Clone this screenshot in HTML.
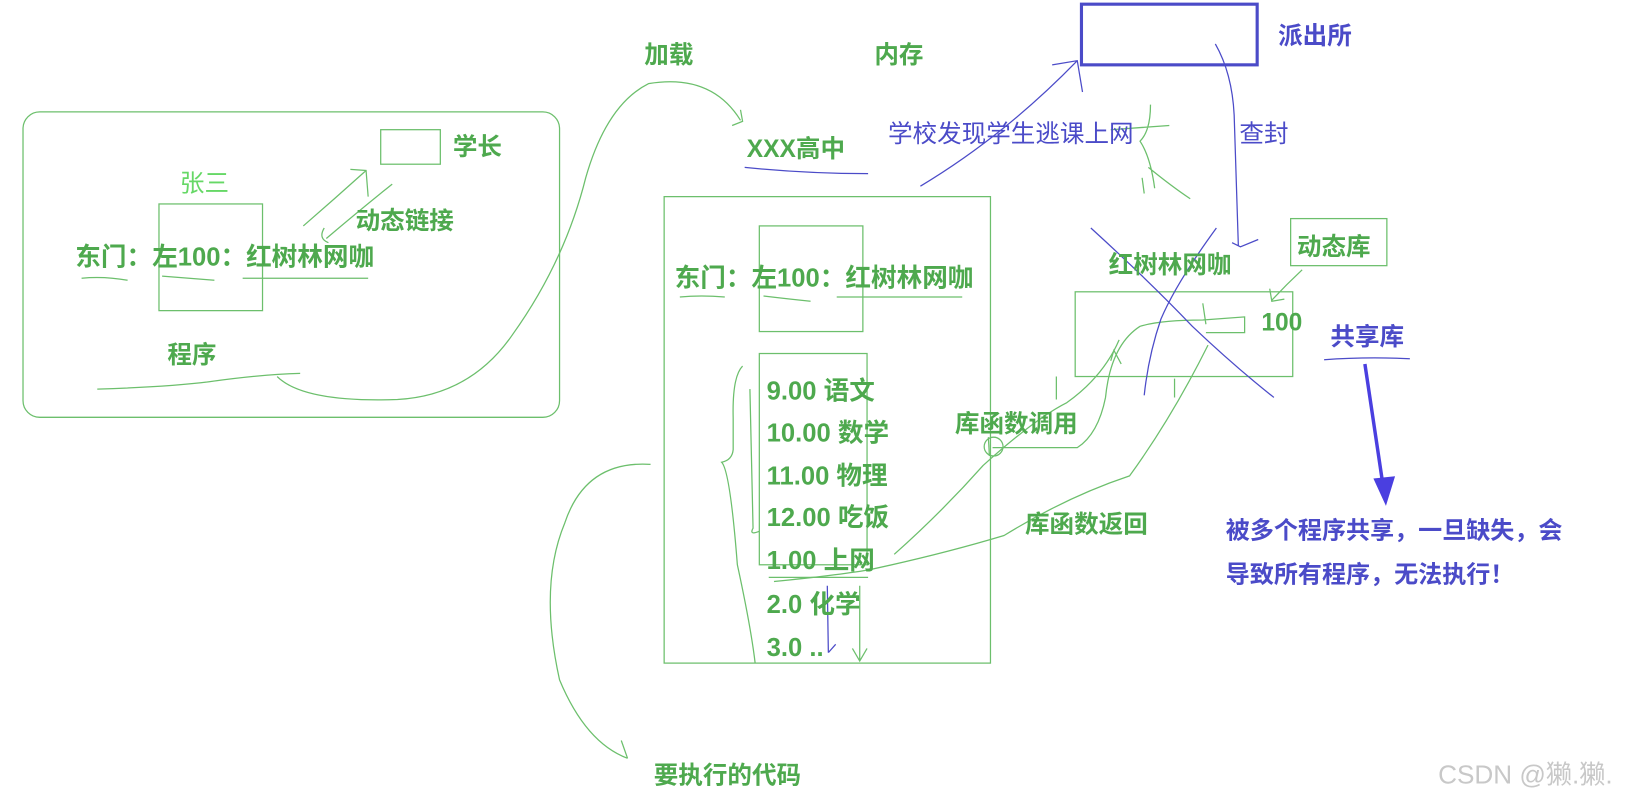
<!DOCTYPE html>
<html><head><meta charset="utf-8"><style>
html,body{margin:0;padding:0;background:#fff;width:1640px;height:798px;overflow:hidden}
svg{display:block}
text{font-family:"Liberation Sans","Noto Sans CJK SC",sans-serif;font-weight:bold;font-size:23.5px;fill:#4ea94e}
.b{fill:#4b4bc8}
.n{font-weight:normal}
</style></head><body>
<svg width="1640" height="798" viewBox="0 0 1640 798" xmlns="http://www.w3.org/2000/svg">
<g transform="scale(1.0459)">
<g fill="none" stroke="#6cbf6c" stroke-width="1.2">
<rect x="22" y="107" width="513" height="292" rx="16"/>
<rect x="364" y="124" width="57" height="33"/>
<rect x="152" y="195" width="99" height="102"/>
<path d="M78 266 Q100 264 122 268 M155 264 Q180 266 205 268 M232 266 L352 266"/>
<path d="M290 216 Q320 190 350 163 M335 162 L350 163 L352 188"/>
<path d="M375 176 Q345 200 312 228 M310 218 Q304 228 314 232"/>
<path d="M93 372 Q160 370 200 365 Q250 358 287 357 M265 360 Q290 385 380 382 Q450 378 490 320 Q540 250 560 170 Q580 100 620 80 Q680 70 708 115 M700 120 L710 116 L708 105"/>
<path d="M712 160 Q770 166 830 166" stroke="#4b4bc8"/>
<rect x="635" y="188" width="312" height="446"/>
<rect x="726" y="216" width="99" height="101"/>
<path d="M650 284 Q670 282 693 284 M730 283 Q755 286 775 288 M800 284 L920 284"/>
<rect x="726" y="338" width="103" height="202"/>
<path d="M735 552 L830 552"/>
<path d="M710 350 Q700 360 701 400 L701 430 Q700 440 690 442 Q698 450 705 540 Q718 600 722 634 M717 372 L720 505 Q716 512 726 508"/>
<path d="M622 444 Q560 440 540 500 Q515 560 535 650 Q560 710 600 725 M594 708 L600 725"/>
<path d="M822 560 L822 632 M815 620 L822 632 L829 620"/>
<rect x="1028" y="279" width="208" height="81"/>
<rect x="1234" y="209" width="92" height="45"/>
<path d="M1245 258 Q1230 272 1216 287 M1214 276 L1216 288 L1228 286"/>
<path d="M1266 344 Q1305 341 1348 343" stroke="#4b4bc8"/>
<path d="M949 428 L1030 428 Q1050 415 1057 380 Q1062 330 1090 312 Q1110 306 1150 306 L1190 303 L1190 318 L1153 318 M1150 290 L1153 310 M1062 345 L1065 335 L1072 348"/>
<circle cx="950" cy="427" r="9"/>
<path d="M945 418 L946 436"/>
<path d="M855 530 Q900 490 940 445 Q990 400 1020 385 Q1055 360 1070 325"/>
<path d="M740 556 Q800 550 830 545 Q900 530 960 512 Q1020 475 1080 455 Q1120 400 1155 330"/>
<path d="M1010 360 L1010 382 M1123 362 L1123 380"/>
<path d="M1100 100 Q1100 125 1090 135 Q1100 150 1104 180 M1098 160 Q1120 178 1138 190 M1062 124 L1118 120 M1092 170 L1094 185"/>
</g>
<g fill="none" stroke="#4b4bc8" stroke-width="1.2">
<rect x="1034" y="4" width="168" height="58" stroke-width="3"/>
<path d="M880 178 Q960 130 1030 58 M1006 62 L1030 58 L1035 88"/>
<path d="M1162 42 Q1178 70 1180 110 L1184 235 M1178 232 L1186 236 L1203 229"/>
<path d="M1043 218 Q1100 270 1140 312 Q1180 350 1218 380 M1163 218 Q1125 270 1110 305 Q1098 340 1094 378"/>
<path d="M791 560 L792 624 M792 624 L799 616"/>
<path d="M1305 348 L1322 462" stroke="#4a3fe0" stroke-width="3.3"/>
<path d="M1314 458 L1325 482 L1333 456 Z" fill="#4a3fe0" stroke="#4a3fe0"/>
</g>
<text x="433" y="148">学长</text>
<text x="172" y="183" class="n" style="fill:#66d866">张三</text>
<text x="340" y="219">动态链接</text>
<text x="72" y="254" style="font-size:24.5px">东门：左100：红树林网咖</text>
<text x="160" y="347">程序</text>
<text x="616" y="60">加载</text>
<text x="836" y="60">内存</text>
<text x="714" y="150">XXX高中</text>
<text x="849" y="136" class="n b">学校发现学生逃课上网</text>
<text x="1222" y="42" class="b">派出所</text>
<text x="1185" y="136" class="n b">查封</text>
<text x="645" y="274" style="font-size:24.5px">东门：左100：红树林网咖</text>
<text x="1060" y="261">红树林网咖</text>
<text x="1240" y="244">动态库</text>
<text x="1206" y="316">100</text>
<text x="1272" y="330" class="b">共享库</text>
<text x="733" y="382" style="font-size:24.5px">9.00 语文</text>
<text x="733" y="422" style="font-size:24.5px">10.00 数学</text>
<text x="733" y="463" style="font-size:24.5px">11.00 物理</text>
<text x="733" y="503" style="font-size:24.5px">12.00 吃饭</text>
<text x="733" y="544" style="font-size:24.5px">1.00 上网</text>
<text x="733" y="586" style="font-size:24.5px">2.0  化学</text>
<text x="733" y="627" style="font-size:24.5px">3.0 ..</text>
<text x="913" y="413">库函数调用</text>
<text x="980" y="509">库函数返回</text>
<text x="1172" y="515" class="b" style="font-size:23px">被多个程序共享，一旦缺失，会</text>
<text x="1172" y="557" class="b" style="font-size:23px">导致所有程序，无法执行！</text>
<text x="625" y="749">要执行的代码</text>
<text x="1375" y="749" class="n" style="fill:#c8c8c8;font-size:25px">CSDN @獭.獭.</text>
</g>
</svg>
</body></html>
